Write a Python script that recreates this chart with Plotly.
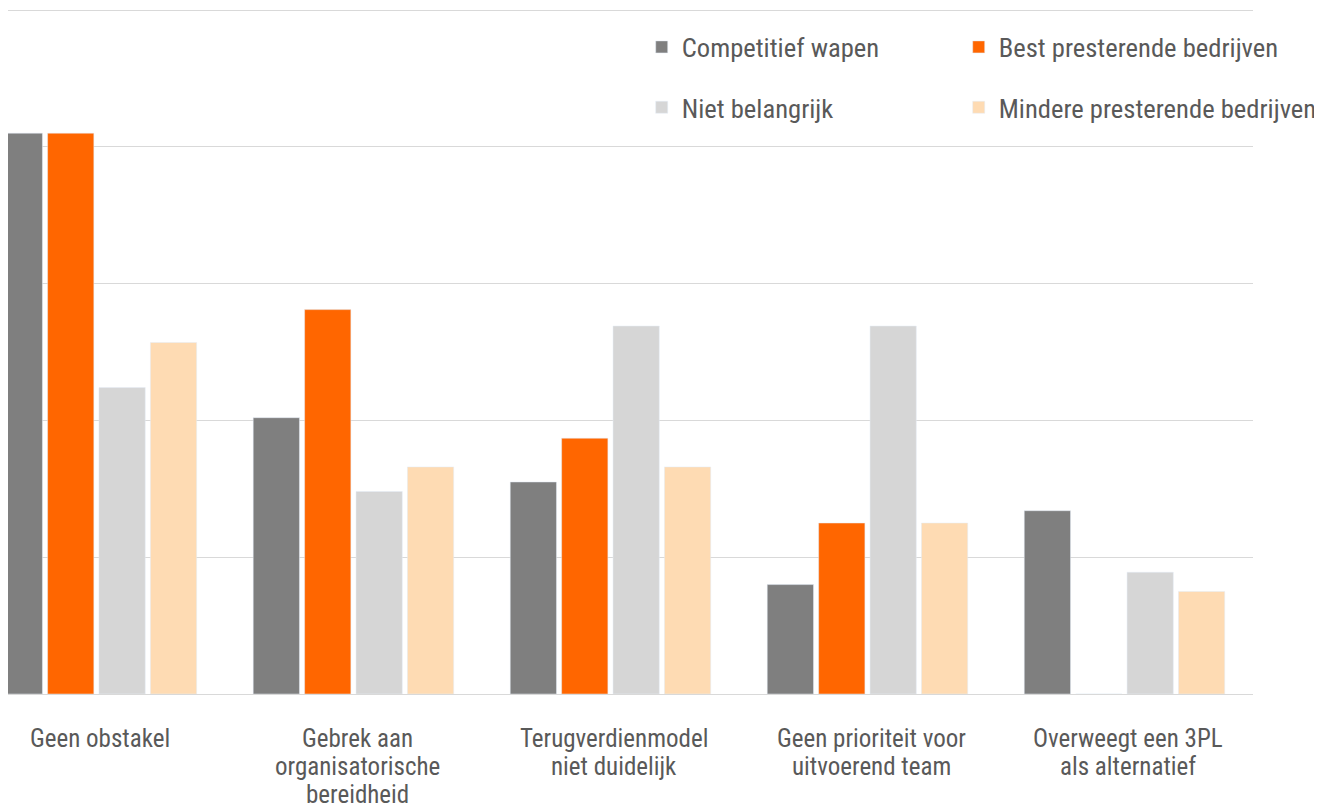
import plotly.graph_objects as go

categories = [
    "Geen obstakel",
    "Gebrek aan organisatorische bereidheid",
    "Terugverdienmodel niet duidelijk",
    "Geen prioriteit voor uitvoerend team",
    "Overweegt een 3PL als alternatief",
]
tick_label_lines = [
    ["Geen obstakel"],
    ["Gebrek aan", "organisatorische", "bereidheid"],
    ["Terugverdienmodel", "niet duidelijk"],
    ["Geen prioriteit voor", "uitvoerend team"],
    ["Overweegt een 3PL", "als alternatief"],
]
competitief_wapen = [41.0, 20.2, 15.5, 8.0, 13.4]
best_presterende = [41.0, 28.1, 18.7, 12.5, 0]
niet_belangrijk = [22.4, 14.8, 26.9, 26.9, 8.9]
mindere_presterende = [25.7, 16.6, 16.6, 12.5, 7.5]
y_ticks = [0, 10, 20, 30, 40, 50]

FONT = "Roboto Condensed, Liberation Sans Narrow, Roboto, sans-serif"
TXT = "#595959"
FS_LEGEND = 26.6
FS_TICK = 25

fig = go.Figure()
fig.add_trace(go.Bar(name="Competitief wapen", x=categories, y=competitief_wapen,
                     marker_color="#7f7f7f", legend="legend"))
fig.add_trace(go.Bar(name="Best presterende bedrijven", x=categories, y=best_presterende,
                     marker_color="#ff6600", legend="legend", legendwidth=290))
fig.add_trace(go.Bar(name="Niet belangrijk", x=categories, y=niet_belangrijk,
                     marker_color="#d6d6d6", legend="legend2"))
fig.add_trace(go.Bar(name="Mindere presterende bedrijven", x=categories, y=mindere_presterende,
                     marker_color="#fedbb3", legend="legend2", legendwidth=324))

# category labels drawn line by line (tight line spacing as in the original)
annotations = []
for cat, lines in zip(categories, tick_label_lines):
    for i, line in enumerate(lines):
        annotations.append(dict(
            x=cat, xref="x", y=0, yref="paper",
            text=line, showarrow=False,
            xanchor="center", yanchor="middle",
            xshift=4, yshift=-(44 + 28 * i),
            font=dict(family=FONT, size=FS_TICK, color=TXT),
        ))

legend_common = dict(
    orientation="h", xanchor="left", yanchor="middle",
    entrywidth=272, entrywidthmode="pixels",
    font=dict(family=FONT, size=FS_LEGEND, color=TXT),
    bgcolor="rgba(0,0,0,0)", itemclick=False, itemdoubleclick=False,
)

fig.update_layout(
    width=1322, height=808,
    margin=dict(l=0, r=77, t=0, b=122, autoexpand=False),
    paper_bgcolor="white", plot_bgcolor="white",
    barmode="group", bargap=0.2, bargroupgap=0.1,
    font=dict(family=FONT, size=FS_LEGEND, color=TXT),
    legend=dict(x=0.509, y=0.943, **legend_common),
    legend2=dict(x=0.509, y=0.855, **legend_common),
    annotations=annotations,
    xaxis=dict(
        type="category", range=[-0.344, 4.5],
        showgrid=False, showline=False, zeroline=False,
        ticks="", showticklabels=False,
    ),
    yaxis=dict(
        range=[0, 50.15], tickvals=y_ticks, showticklabels=False,
        showgrid=True, gridcolor="#d9d9d9", gridwidth=1,
        zeroline=True, zerolinecolor="#d9d9d9", zerolinewidth=1,
        showline=False, ticks="",
    ),
)

fig.write_html("out.html")
